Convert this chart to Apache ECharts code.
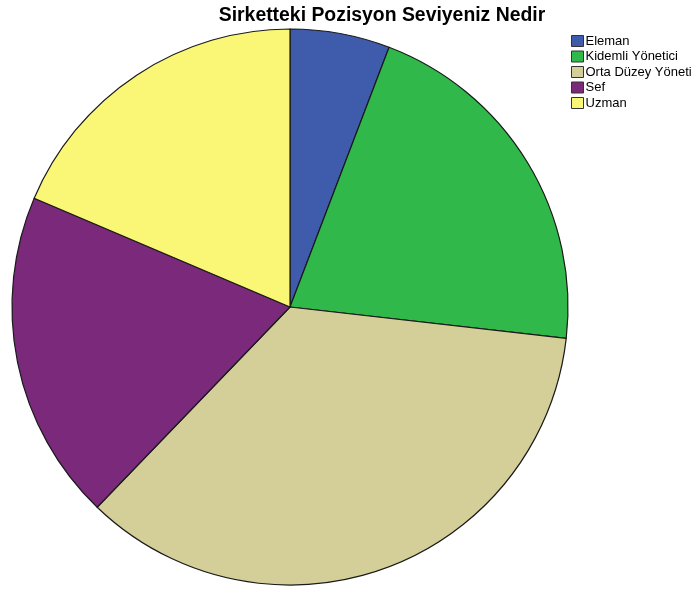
<!DOCTYPE html>
<html>
<head>
<meta charset="utf-8">
<script src="https://cdn.jsdelivr.net/npm/echarts@6/dist/echarts.min.js"></script>
<style>
  html, body { margin: 0; padding: 0; background: #ffffff; }
  #chart { width: 699px; height: 592px; }
</style>
</head>
<body>
<div id="chart"></div>
<script>
// Position levels and their share of respondents (%)
const categories = ['Eleman', 'Kidemli Yönetici', 'Orta Düzey Yönetici', 'Sef', 'Uzman'];
const shares = [5.8, 21.0, 35.4, 19.2, 18.6];
const colors = ['#3f5bac', '#30b94a', '#d4cf98', '#7b2a7b', '#fbf776'];

const chart = echarts.init(document.getElementById('chart'));

chart.setOption({
  backgroundColor: '#ffffff',
  animation: false,
  title: {
    text: 'Sirketteki Pozisyon Seviyeniz Nedir',
    left: 377,
    top: 1,
    textAlign: 'center',
    textStyle: {
      fontFamily: 'Liberation Sans, Arial, sans-serif',
      fontSize: 19.4,
      fontWeight: 'bold',
      color: '#000000'
    }
  },
  legend: {
    orient: 'vertical',
    left: 571,
    top: 34.5,
    itemWidth: 12,
    itemHeight: 11,
    itemGap: 2.5,
    padding: 0,
    icon: 'rect',
    selectedMode: false,
    itemStyle: { borderColor: '#333333', borderWidth: 1 },
    textStyle: {
      fontFamily: 'Liberation Sans, Arial, sans-serif',
      fontSize: 13,
      lineHeight: 11,
      color: '#000000',
      padding: [0, 0, 0, -3],
      width: 116,
      overflow: 'truncate',
      ellipsis: ''
    },
    data: categories
  },
  series: [{
    type: 'pie',
    center: [290, 307],
    radius: 278,
    startAngle: 90,
    clockwise: true,
    label: { show: false },
    labelLine: { show: false },
    emphasis: { disabled: true },
    itemStyle: { borderColor: '#1a1a1a', borderWidth: 1.2 },
    data: categories.map((name, i) => ({
      name: name,
      value: shares[i],
      itemStyle: { color: colors[i] }
    }))
  }]
});
</script>
</body>
</html>
